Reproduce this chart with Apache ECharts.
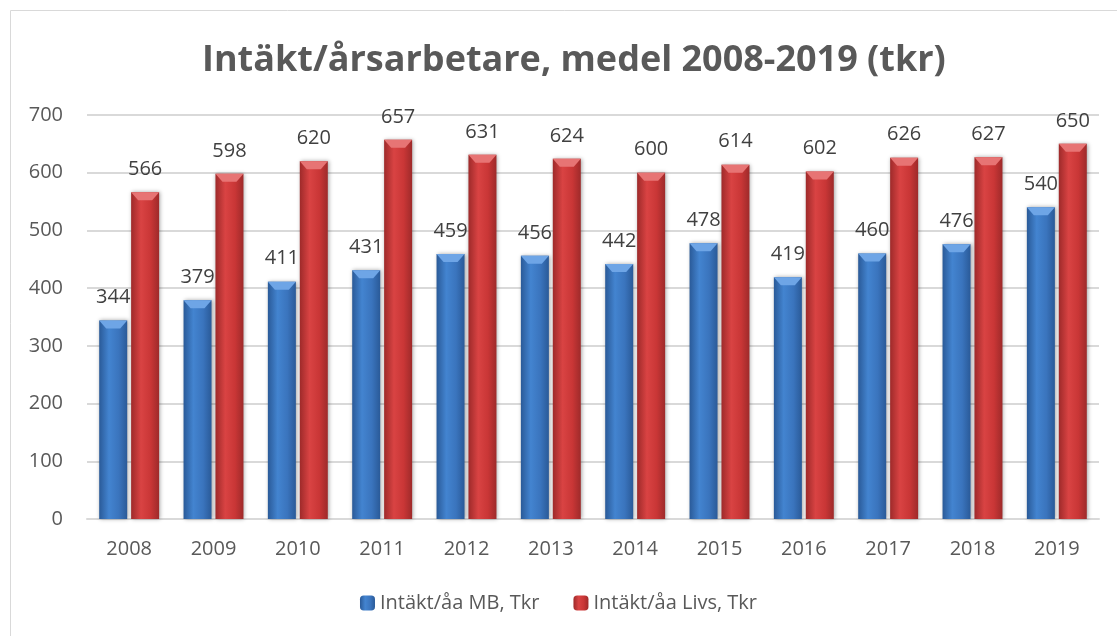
<!DOCTYPE html>
<html lang="sv">

<head>
  <meta charset="UTF-8">
  <title>Intäkt/årsarbetare</title>
  <style>
    * {
      margin: 0;
      padding: 0;
      box-sizing: border-box;
    }

    body {
      background-color: #fff;
    }

    .chart {
      width: 1117px;
      height: 636px;
    }
  </style>
</head>

<body>
  <div id="chart" class="chart"></div>
  <script src="https://cdn.jsdelivr.net/npm/echarts@6/dist/echarts.min.js"></script>
  <script>
    const years = ['2008', '2009', '2010', '2011', '2012', '2013', '2014', '2015', '2016', '2017', '2018', '2019']
    const mbValues = [344, 379, 411, 431, 459, 456, 442, 478, 419, 460, 476, 540]
    const livsValues = [566, 598, 620, 657, 631, 624, 600, 614, 602, 626, 627, 650]
    const seriesNames = ['Intäkt/åa MB, Tkr', 'Intäkt/åa Livs, Tkr']

    const font = 'Open Sans'
    const barWidth = 28
    const barGap = '14%'
    const bevel = 'path://M0,0 L28,0 L21,8 L7,8 Z'

    // horisontell gradient så att staplarna ser lite runda ut
    function barFill(dark, mid, light) {
      return new echarts.graphic.LinearGradient(0, 0, 1, 0, [
        { offset: 0, color: dark },
        { offset: 0.35, color: light },
        { offset: 0.7, color: mid },
        { offset: 1, color: dark }
      ])
    }
    const blueFill = barFill('#2a5a98', '#3a74bd', '#4384d0')
    const redFill = barFill('#9e2a2a', '#c93636', '#d94343')

    const labelStyle = {
      show: true,
      position: 'top',
      distance: 13,
      color: '#404040',
      fontFamily: font,
      fontSize: 20
    }

    // ljus avfasning överst på varje stapel
    function bevelSeries(values, color) {
      return {
        type: 'pictorialBar',
        data: values,
        symbol: bevel,
        symbolSize: [barWidth, 8],
        symbolPosition: 'end',
        symbolOffset: [0, 0],
        barWidth: barWidth,
        barGap: barGap,
        itemStyle: { color: color },
        z: 5,
        silent: true
      }
    }

    const chart = echarts.init(document.querySelector('#chart'))
    const options = {
      animation: false,
      graphic: [
        {
          type: 'rect',
          shape: { x: 10.5, y: 10.5, width: 1200, height: 700 },
          style: { fill: 'none', stroke: '#d9d9d9', lineWidth: 1 }
        }
      ],
      title: {
        text: 'Intäkt/årsarbetare, medel 2008-2019 (tkr)',
        left: 197,
        top: 38,
        textStyle: {
          color: '#595959',
          fontFamily: font,
          fontWeight: 'bold',
          fontSize: 36
        }
      },
      legend: {
        data: seriesNames,
        bottom: 18,
        left: 'center',
        itemWidth: 15,
        itemHeight: 15,
        itemGap: 34,
        textStyle: {
          color: '#595959',
          fontFamily: font,
          fontSize: 20
        }
      },
      grid: {
        left: 87,
        right: 18,
        top: 115,
        bottom: 117
      },
      xAxis: {
        type: 'category',
        data: years,
        axisLine: { lineStyle: { color: '#d9d9d9', width: 2 } },
        axisTick: { show: false },
        axisLabel: {
          color: '#595959',
          fontFamily: font,
          fontSize: 20,
          margin: 20
        }
      },
      yAxis: {
        type: 'value',
        min: 0,
        max: 700,
        interval: 100,
        axisLine: { show: false },
        axisTick: { show: false },
        splitLine: { lineStyle: { color: '#d9d9d9', width: 2 } },
        axisLabel: {
          color: '#595959',
          fontFamily: font,
          fontSize: 20,
          margin: 24
        }
      },
      series: [
        {
          name: seriesNames[0],
          type: 'bar',
          data: mbValues,
          barWidth: barWidth,
          barGap: barGap,
          itemStyle: {
            color: blueFill,
            shadowColor: 'rgba(0, 0, 0, 0.35)',
            shadowBlur: 4,
            shadowOffsetX: 1
          },
          label: labelStyle
        },
        {
          name: seriesNames[1],
          type: 'bar',
          data: livsValues,
          barWidth: barWidth,
          barGap: barGap,
          itemStyle: {
            color: redFill,
            shadowColor: 'rgba(0, 0, 0, 0.35)',
            shadowBlur: 4,
            shadowOffsetX: 1
          },
          label: labelStyle
        },
        bevelSeries(mbValues, '#6ea5e6'),
        bevelSeries(livsValues, '#e77474')
      ]
    }

    chart.setOption(options)
  </script>
</body>

</html>
